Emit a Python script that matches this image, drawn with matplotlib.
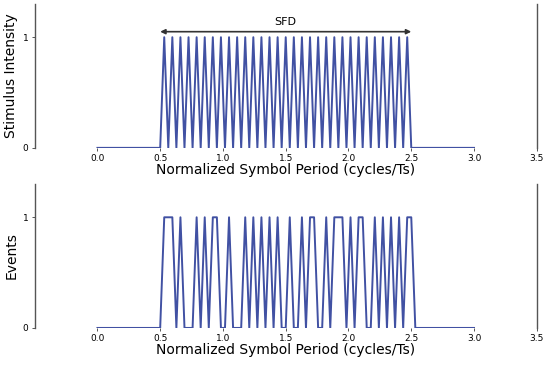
import numpy as np
import matplotlib
matplotlib.use("Agg")
from matplotlib import pyplot as plt

# sample grid: flat 0 from 0 to 0.5, 63 samples over the SFD (step 1/31), flat 0 to 3.0
sfd_start = 0.5
sfd_end = 2.5
n_steps = 62

stimulus = [0, 1] * 31 + [0]
events = [0, 1, 1, 1, 0, 1, 0, 0, 0, 1,
          0, 1, 0, 1, 1, 0, 0, 1, 0, 0,
          0, 1, 0, 1, 0, 1, 0, 1, 0, 1,
          0, 0, 1, 0, 0, 1, 0, 1, 1, 0,
          0, 1, 0, 1, 1, 1, 0, 1, 0, 1,
          1, 0, 0, 1, 0, 1, 0, 1, 0, 1,
          0, 1, 1]

xticks = [0.0, 0.5, 1.0, 1.5, 2.0, 2.5, 3.0, 3.5]
xlabel = "Normalized Symbol Period (cycles/Ts)"

step = (sfd_end - sfd_start) / n_steps
t_sfd = sfd_start + step * np.arange(n_steps + 1)

t_top = np.concatenate([[0.0], t_sfd, [3.0]])
y_top = np.concatenate([[0], stimulus, [0]])

t_bot = np.concatenate([[0.0], t_sfd, [sfd_end + step, 3.0]])
y_bot = np.concatenate([[0], events, [0, 0]])

line_color = "#4151a3"
spine_color = "#555555"

fig = plt.figure(figsize=(5.5, 3.66), dpi=100)
ax1 = fig.add_axes([0.063, 0.596, 0.913, 0.393])
ax2 = fig.add_axes([0.063, 0.104, 0.913, 0.393])

for ax, t, y, ylab in [(ax1, t_top, y_top, "Stimulus Intensity"),
                       (ax2, t_bot, y_bot, "Events")]:
    ax.plot(t, y, color=line_color, lw=1.4)
    ax.set_xlim(-0.5, 3.5)
    ax.set_ylim(0, 1.3)
    ax.set_xticks(xticks)
    ax.set_xticklabels([f"{v:.1f}" for v in xticks])
    ax.set_yticks([0, 1])
    ax.tick_params(labelsize=6.5, length=2.5, width=0.7, color=spine_color, pad=2)
    ax.spines["top"].set_visible(False)
    ax.spines["bottom"].set_visible(False)
    for s in ["left", "right"]:
        ax.spines[s].set_color(spine_color)
        ax.spines[s].set_linewidth(1.0)
    ax.set_xlabel(xlabel, fontsize=10, labelpad=0)
    ax.set_ylabel(ylab, fontsize=10, labelpad=3)

ax1.annotate("", xy=(sfd_start, 1.05), xytext=(sfd_end, 1.05),
             arrowprops=dict(arrowstyle="<|-|>", color="#333333", lw=1.2,
                             mutation_scale=7, shrinkA=0, shrinkB=0))
ax1.text((sfd_start + sfd_end) / 2, 1.09, "SFD", ha="center", va="bottom", fontsize=8)

fig.savefig("out.png", dpi=100)
